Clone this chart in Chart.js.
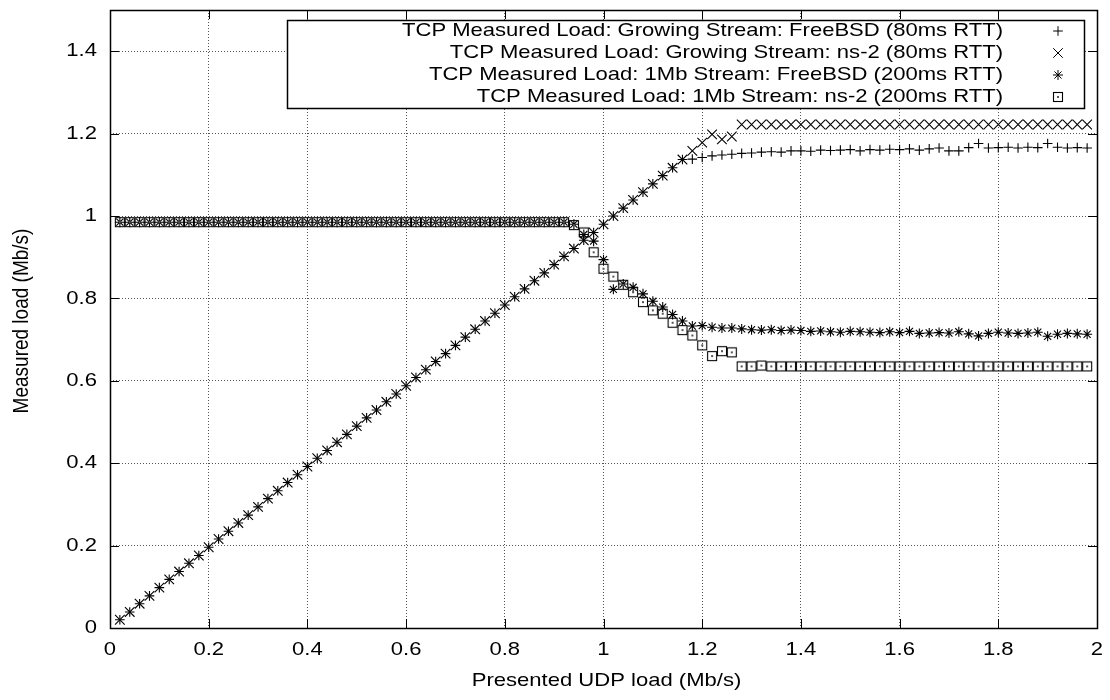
<!DOCTYPE html>
<html>
<head>
<meta charset="utf-8">
<title>TCP measured load vs presented UDP load</title>
<script src="https://cdn.jsdelivr.net/npm/chart.js@4.4.0/dist/chart.umd.min.js"></script>
<style>
  html, body { margin: 0; padding: 0; background: #fff; }
</style>
</head>
<body>
<canvas id="loadChart" width="1110" height="700"></canvas>
<script>
// presented UDP load (Mb/s), one sample every 0.02
const udpLoad = [
  0.02,0.04,0.06,0.08,0.10,0.12,0.14,0.16,0.18,0.20,
  0.22,0.24,0.26,0.28,0.30,0.32,0.34,0.36,0.38,0.40,
  0.42,0.44,0.46,0.48,0.50,0.52,0.54,0.56,0.58,0.60,
  0.62,0.64,0.66,0.68,0.70,0.72,0.74,0.76,0.78,0.80,
  0.82,0.84,0.86,0.88,0.90,0.92,0.94,0.96,0.98,1.00,
  1.02,1.04,1.06,1.08,1.10,1.12,1.14,1.16,1.18,1.20,
  1.22,1.24,1.26,1.28,1.30,1.32,1.34,1.36,1.38,1.40,
  1.42,1.44,1.46,1.48,1.50,1.52,1.54,1.56,1.58,1.60,
  1.62,1.64,1.66,1.68,1.70,1.72,1.74,1.76,1.78,1.80,
  1.82,1.84,1.86,1.88,1.90,1.92,1.94,1.96,1.98
];

// TCP Measured Load: Growing Stream: FreeBSD (80ms RTT)
const growFreeBSD = [
  0.020,0.039,0.059,0.078,0.098,0.118,0.137,0.157,0.176,0.196,
  0.216,0.235,0.255,0.274,0.294,0.314,0.333,0.353,0.372,0.392,
  0.412,0.431,0.451,0.470,0.490,0.510,0.529,0.549,0.568,0.588,
  0.608,0.627,0.647,0.666,0.686,0.706,0.725,0.745,0.764,0.784,
  0.804,0.823,0.843,0.862,0.882,0.902,0.921,0.941,0.960,0.980,
  1.000,1.019,1.039,1.058,1.078,1.098,1.117,1.137,1.138,1.142,
  1.146,1.148,1.150,1.152,1.153,1.155,1.156,1.155,1.158,1.158,
  1.157,1.160,1.159,1.160,1.161,1.158,1.161,1.160,1.162,1.161,
  1.163,1.160,1.163,1.165,1.158,1.158,1.166,1.176,1.165,1.166,
  1.167,1.165,1.167,1.166,1.176,1.167,1.165,1.166,1.165
];

// TCP Measured Load: Growing Stream: ns-2 (80ms RTT)
const growNs2 = [
  0.020,0.039,0.059,0.078,0.098,0.118,0.137,0.157,0.176,0.196,
  0.216,0.235,0.255,0.274,0.294,0.314,0.333,0.353,0.372,0.392,
  0.412,0.431,0.451,0.470,0.490,0.510,0.529,0.549,0.568,0.588,
  0.608,0.627,0.647,0.666,0.686,0.706,0.725,0.745,0.764,0.784,
  0.804,0.823,0.843,0.862,0.882,0.902,0.921,0.941,0.960,0.980,
  1.000,1.019,1.039,1.058,1.078,1.098,1.117,1.137,1.158,1.178,
  1.198,1.186,1.193,1.222,1.222,1.222,1.222,1.222,1.222,1.222,
  1.222,1.222,1.222,1.222,1.222,1.222,1.222,1.222,1.222,1.222,
  1.222,1.222,1.222,1.222,1.222,1.222,1.222,1.222,1.222,1.222,
  1.222,1.222,1.222,1.222,1.222,1.222,1.222,1.222,1.222
];

// TCP Measured Load: 1Mb Stream: FreeBSD (200ms RTT)
const oneMbFreeBSD = [
  0.985,0.985,0.985,0.985,0.985,0.985,0.985,0.985,0.985,0.985,
  0.985,0.985,0.985,0.985,0.985,0.985,0.985,0.985,0.985,0.985,
  0.985,0.985,0.985,0.985,0.985,0.985,0.985,0.985,0.985,0.985,
  0.985,0.985,0.985,0.985,0.985,0.985,0.985,0.985,0.985,0.985,
  0.985,0.985,0.985,0.985,0.985,0.985,0.980,0.955,0.939,0.894,
  0.822,0.835,0.827,0.811,0.793,0.779,0.761,0.745,0.733,0.734,
  0.730,0.728,0.728,0.726,0.724,0.723,0.724,0.722,0.723,0.722,
  0.720,0.721,0.719,0.718,0.720,0.719,0.718,0.717,0.719,0.717,
  0.720,0.715,0.716,0.717,0.716,0.719,0.714,0.709,0.715,0.718,
  0.716,0.715,0.716,0.718,0.708,0.713,0.715,0.714,0.713
];

// TCP Measured Load: 1Mb Stream: ns-2 (200ms RTT)
const oneMbNs2 = [
  0.985,0.985,0.985,0.985,0.985,0.985,0.985,0.985,0.985,0.985,
  0.985,0.985,0.985,0.985,0.985,0.985,0.985,0.985,0.985,0.985,
  0.985,0.985,0.985,0.985,0.985,0.985,0.985,0.985,0.985,0.985,
  0.985,0.985,0.985,0.985,0.985,0.985,0.985,0.985,0.985,0.985,
  0.985,0.985,0.985,0.985,0.985,0.985,0.978,0.960,0.912,0.872,
  0.853,0.833,0.815,0.791,0.771,0.763,0.741,0.723,0.710,0.686,
  0.660,0.672,0.669,0.635,0.635,0.637,0.635,0.635,0.635,0.635,
  0.635,0.635,0.635,0.635,0.635,0.635,0.635,0.635,0.635,0.635,
  0.635,0.635,0.635,0.635,0.635,0.635,0.635,0.635,0.635,0.635,
  0.635,0.635,0.635,0.635,0.635,0.635,0.635,0.635,0.635
];

const seriesLabels = [
  'TCP Measured Load: Growing Stream: FreeBSD (80ms RTT)',
  'TCP Measured Load: Growing Stream: ns-2 (80ms RTT)',
  'TCP Measured Load: 1Mb Stream: FreeBSD (200ms RTT)',
  'TCP Measured Load: 1Mb Stream: ns-2 (200ms RTT)'
];
const xTitle = 'Presented UDP load (Mb/s)';
const yTitle = 'Measured load (Mb/s)';

const FONT = '19px "Liberation Sans", Arial, Helvetica, sans-serif';
const STRETCH = 1.16; // text in the original is a bit wider than tall

// gnuplot style box with a dot in the middle
function boxMarker() {
  const c = document.createElement('canvas');
  c.width = 12; c.height = 12;
  const g = c.getContext('2d');
  g.strokeStyle = '#000';
  g.lineWidth = 1.1;
  g.strokeRect(1.5, 1.5, 9, 9);
  g.fillStyle = '#555';
  g.fillRect(5, 5, 2, 2);
  return c;
}
const boxStyle = boxMarker();

function pts(ys) {
  return udpLoad.map((x, i) => ({x: x, y: ys[i]}));
}

// gnuplot writes 1 and 2, not 1.0 and 2.0
function tickText(v) {
  return String(Number(v.toFixed(2)));
}

function stretchedText(ctx, text, x, y, align) {
  ctx.save();
  ctx.translate(x, y);
  ctx.scale(STRETCH, 1);
  ctx.textAlign = align;
  ctx.fillText(text, 0, 0);
  ctx.restore();
}

const gnuplotFrame = {
  id: 'gnuplotFrame',
  afterDraw(chart) {
    const {ctx, chartArea: a, scales: {x, y}} = chart;
    ctx.save();

    // inward tick marks on every side
    ctx.strokeStyle = '#000';
    ctx.lineWidth = 1;
    ctx.beginPath();
    x.ticks.forEach(t => {
      const px = Math.round(x.getPixelForValue(t.value)) + 0.5;
      ctx.moveTo(px, a.bottom); ctx.lineTo(px, a.bottom - 9);
      ctx.moveTo(px, a.top); ctx.lineTo(px, a.top + 9);
    });
    y.ticks.forEach(t => {
      const py = Math.round(y.getPixelForValue(t.value)) + 0.5;
      ctx.moveTo(a.left, py); ctx.lineTo(a.left + 9, py);
      ctx.moveTo(a.right, py); ctx.lineTo(a.right - 9, py);
    });
    ctx.stroke();

    ctx.lineWidth = 1.5;
    ctx.strokeRect(a.left + 0.5, a.top + 0.5, a.width, a.height);

    // tick labels
    ctx.fillStyle = '#000';
    ctx.font = FONT;
    ctx.textBaseline = 'middle';
    x.ticks.forEach(t => {
      stretchedText(ctx, tickText(t.value), x.getPixelForValue(t.value), a.bottom + 22, 'center');
    });
    y.ticks.forEach(t => {
      stretchedText(ctx, tickText(t.value), a.left - 13, y.getPixelForValue(t.value), 'right');
    });

    // axis titles
    stretchedText(ctx, xTitle, (a.left + a.right) / 2 + 3, 681, 'center');
    ctx.save();
    ctx.translate(22, (a.top + a.bottom) / 2 + 2);
    ctx.rotate(-Math.PI / 2);
    ctx.scale(1, STRETCH);
    ctx.textAlign = 'center';
    ctx.fillText(yTitle, 0, 0);
    ctx.restore();

    // key
    const kx = 287.5, ky = 20.5, kw = 797, kh = 88;
    ctx.fillStyle = '#fff';
    ctx.fillRect(kx, ky, kw, kh);
    ctx.strokeStyle = '#000';
    ctx.lineWidth = 1.5;
    ctx.strokeRect(kx, ky, kw, kh);
    ctx.fillStyle = '#000';
    chart.data.datasets.forEach((ds, i) => {
      const rowY = 31 + i * 22;
      stretchedText(ctx, ds.label, 1003, rowY, 'right');
      ctx.strokeStyle = '#000';
      ctx.lineWidth = 1;
      ctx.fillStyle = 'rgba(0,0,0,0)';
      Chart.helpers.drawPoint(ctx, {
        pointStyle: ds.pointStyle, radius: ds.pointRadius, rotation: 0, borderWidth: 1
      }, 1058, rowY);
      ctx.fillStyle = '#000';
    });

    ctx.restore();
  }
};

const ctx = document.getElementById('loadChart').getContext('2d');

const loadChart = new Chart(ctx, {
  type: 'scatter',
  data: {
    datasets: [
      { label: seriesLabels[0], data: pts(growFreeBSD), pointStyle: 'cross', pointRadius: 4.8, order: 4 },
      { label: seriesLabels[1], data: pts(growNs2), pointStyle: 'crossRot', pointRadius: 6.8, order: 3 },
      { label: seriesLabels[2], data: pts(oneMbFreeBSD), pointStyle: 'star', pointRadius: 5, order: 2 },
      { label: seriesLabels[3], data: pts(oneMbNs2), pointStyle: boxStyle, pointRadius: 5, order: 1 }
    ].map(ds => Object.assign(ds, {
      showLine: false,
      borderColor: '#000',
      backgroundColor: 'rgba(0,0,0,0)',
      pointBorderColor: '#000',
      pointBackgroundColor: 'rgba(0,0,0,0)',
      pointBorderWidth: 1.1,
      pointHoverRadius: ds.pointRadius
    }))
  },
  options: {
    responsive: false,
    animation: false,
    events: [],
    layout: { padding: { left: 0, top: 10, right: 13, bottom: 0 } },
    plugins: {
      legend: { display: false },
      tooltip: { enabled: false }
    },
    scales: {
      x: {
        type: 'linear',
        min: 0,
        max: 2,
        ticks: { stepSize: 0.2, display: false },
        grid: { color: '#555', lineWidth: 1, drawTicks: false },
        border: { display: false, dash: [1, 2] },
        afterFit: s => { s.height = 72; }
      },
      y: {
        type: 'linear',
        min: 0,
        max: 1.5,
        ticks: { stepSize: 0.2, includeBounds: false, display: false },
        grid: { color: '#555', lineWidth: 1, drawTicks: false },
        border: { display: false, dash: [1, 2] },
        afterFit: s => { s.width = 110; }
      }
    }
  },
  plugins: [gnuplotFrame]
});
</script>
</body>
</html>
